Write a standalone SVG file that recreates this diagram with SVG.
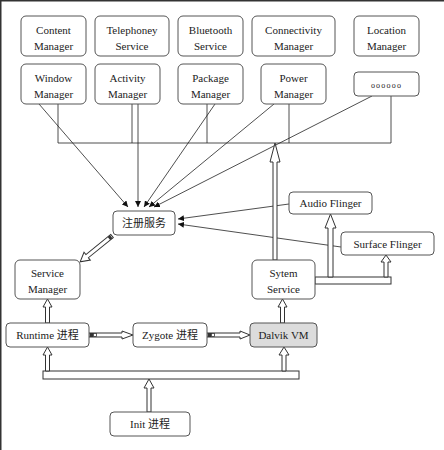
<svg xmlns="http://www.w3.org/2000/svg" width="444" height="450" viewBox="0 0 444 450">
<style>
.n rect{fill:#fff;stroke:#555;stroke-width:1}
.t{font-family:"Liberation Serif","Noto Sans CJK SC",serif;font-size:11px;fill:#222;text-anchor:middle}
.c{font-family:"Noto Sans CJK SC","Liberation Sans",sans-serif;font-size:11px;fill:#222;text-anchor:middle}
.l{stroke:#222;stroke-width:0.8;fill:none}
.h{fill:#fff;stroke:#333;stroke-width:1}
</style>
<defs>
<marker id="a" viewBox="0 0 10 10" refX="10" refY="5" markerWidth="6" markerHeight="6" orient="auto" markerUnits="userSpaceOnUse">
<path d="M0,0 L10,5 L0,10 z" fill="#111"/>
</marker>
</defs>
<rect width="444" height="450" fill="#fff"/>
<path d="M0.75,450 V0.75 H444" fill="none" stroke="#333" stroke-width="1.5"/>

<g id="connectors">
<path class="l" d="M58,104 V143 M132,104 V143 M207,104 V143 M289,104 V143 M391,96 V143 M58,143 H391"/>
<line class="l" x1="39" y1="104" x2="128" y2="207" marker-end="url(#a)"/>
<line class="l" x1="138" y1="104" x2="138" y2="207" marker-end="url(#a)"/>
<line class="l" x1="215" y1="104" x2="144" y2="207" marker-end="url(#a)"/>
<line class="l" x1="274" y1="104" x2="149" y2="207" marker-end="url(#a)"/>
<line class="l" x1="372" y1="96" x2="154" y2="207" marker-end="url(#a)"/>
<line class="l" x1="289" y1="204" x2="178" y2="219" marker-end="url(#a)"/>
<line class="l" x1="341" y1="247" x2="178" y2="224" marker-end="url(#a)"/>

<polygon class="h" points="273,260 273,162 270,162 275,143 280,162 277,162 277,260"/>
<rect class="h" x="315" y="277" width="76" height="7"/>
<polygon class="h" points="328,277 328,228 325,228 330.5,214 336,228 333,228 333,277"/>
<polygon class="h" points="384,277 384,262 381,262 386,255 391,262 388,262 388,277"/>

<g transform="translate(112,236) rotate(140.9)">
<polygon class="h" points="0,-2 32,-2 32,-5 41,0 32,5 32,2 0,2"/>
<rect x="1" y="-2" width="3" height="4" fill="#333"/>
</g>

<rect class="h" x="43" y="371" width="256" height="8"/>
<polygon class="h" points="147,412 147,388 144,388 149,379 154,388 151,388 151,412"/>
<polygon class="h" points="45.5,371 45.5,355 43,355 47.5,347 52,355 49.5,355 49.5,371"/>
<polygon class="h" points="282,371 282,355 279,355 284,347 289,355 286,355 286,371"/>
<polygon class="h" points="45.5,323 45.5,307 43,307 47.5,299 52,307 49.5,307 49.5,323"/>
<polygon class="h" points="280.5,323 280.5,307 278,307 282.5,299 287,307 284.5,307 284.5,323"/>

<polygon class="h" points="89,333 122,333 122,331 133,335 122,339 122,337 89,337"/>
<rect x="90" y="333" width="3" height="4" fill="#333"/>
<rect x="93.5" y="333.5" width="3" height="3" fill="#fff" stroke="#333" stroke-width="0.8"/>
<polygon class="h" points="207,333 240,333 240,331 250,335 240,339 240,337 207,337"/>
<rect x="208" y="333" width="3" height="4" fill="#333"/>
<rect x="211.5" y="333.5" width="3" height="3" fill="#fff" stroke="#333" stroke-width="0.8"/>
</g>

<g id="content-manager" class="n"><rect x="21" y="16" width="65" height="40" rx="5"/><text class="t" x="53.5" y="34">Content</text><text class="t" x="53.5" y="50">Manager</text></g>
<g id="telephoney-service" class="n"><rect x="95" y="16" width="74" height="40" rx="5"/><text class="t" x="132" y="34">Telephoney</text><text class="t" x="132" y="50">Service</text></g>
<g id="bluetooth-service" class="n"><rect x="178" y="16" width="65" height="40" rx="5"/><text class="t" x="210.5" y="34">Bluetooth</text><text class="t" x="210.5" y="50">Service</text></g>
<g id="connectivity-manager" class="n"><rect x="252" y="16" width="83" height="40" rx="5"/><text class="t" x="293.5" y="34">Connectivity</text><text class="t" x="293.5" y="50">Manager</text></g>
<g id="location-manager" class="n"><rect x="354" y="16" width="65" height="40" rx="5"/><text class="t" x="386.5" y="34">Location</text><text class="t" x="386.5" y="50">Manager</text></g>

<g id="window-manager" class="n"><rect x="21" y="64" width="65" height="40" rx="5"/><text class="t" x="53.5" y="82">Window</text><text class="t" x="53.5" y="98">Manager</text></g>
<g id="activity-manager" class="n"><rect x="95" y="64" width="65" height="40" rx="5"/><text class="t" x="127.5" y="82">Activity</text><text class="t" x="127.5" y="98">Manager</text></g>
<g id="package-manager" class="n"><rect x="178" y="64" width="65" height="40" rx="5"/><text class="t" x="210.5" y="82">Package</text><text class="t" x="210.5" y="98">Manager</text></g>
<g id="power-manager" class="n"><rect x="261" y="64" width="65" height="40" rx="5"/><text class="t" x="293.5" y="82">Power</text><text class="t" x="293.5" y="98">Manager</text></g>
<g id="more" class="n"><rect x="354" y="72" width="65" height="24" rx="4"/><text class="t" x="386.5" y="88" style="font-size:8px;letter-spacing:1.2px">oooooo</text></g>

<g id="register-service" class="n"><rect x="113" y="211" width="62" height="24" rx="4"/><text class="c" x="144" y="227">注册服务</text></g>
<g id="audio-flinger" class="n"><rect x="289" y="192" width="83" height="22" rx="4"/><text class="t" x="330.5" y="207">Audio Flinger</text></g>
<g id="surface-flinger" class="n"><rect x="341" y="232" width="93" height="23" rx="4"/><text class="t" x="387.5" y="248">Surface Flinger</text></g>
<g id="service-manager" class="n"><rect x="15" y="260" width="65" height="39" rx="5"/><text class="t" x="47.5" y="277">Service</text><text class="t" x="47.5" y="293">Manager</text></g>
<g id="system-service" class="n"><rect x="252" y="260" width="63" height="39" rx="5"/><text class="t" x="283.5" y="277">Sytem</text><text class="t" x="283.5" y="293">Service</text></g>

<g id="runtime" class="n"><rect x="6" y="323" width="83" height="24" rx="4"/><text class="t" x="47.5" y="339">Runtime 进程</text></g>
<g id="zygote" class="n"><rect x="133" y="323" width="74" height="24" rx="4"/><text class="t" x="170" y="339">Zygote 进程</text></g>
<g id="dalvik" class="n"><rect x="250" y="323" width="67" height="24" rx="4" style="fill:#dcdcdc"/><text class="t" x="283.5" y="339">Dalvik VM</text></g>
<g id="init" class="n"><rect x="110" y="412" width="80" height="24" rx="4"/><text class="t" x="150" y="428">Init  进程</text></g>
</svg>
